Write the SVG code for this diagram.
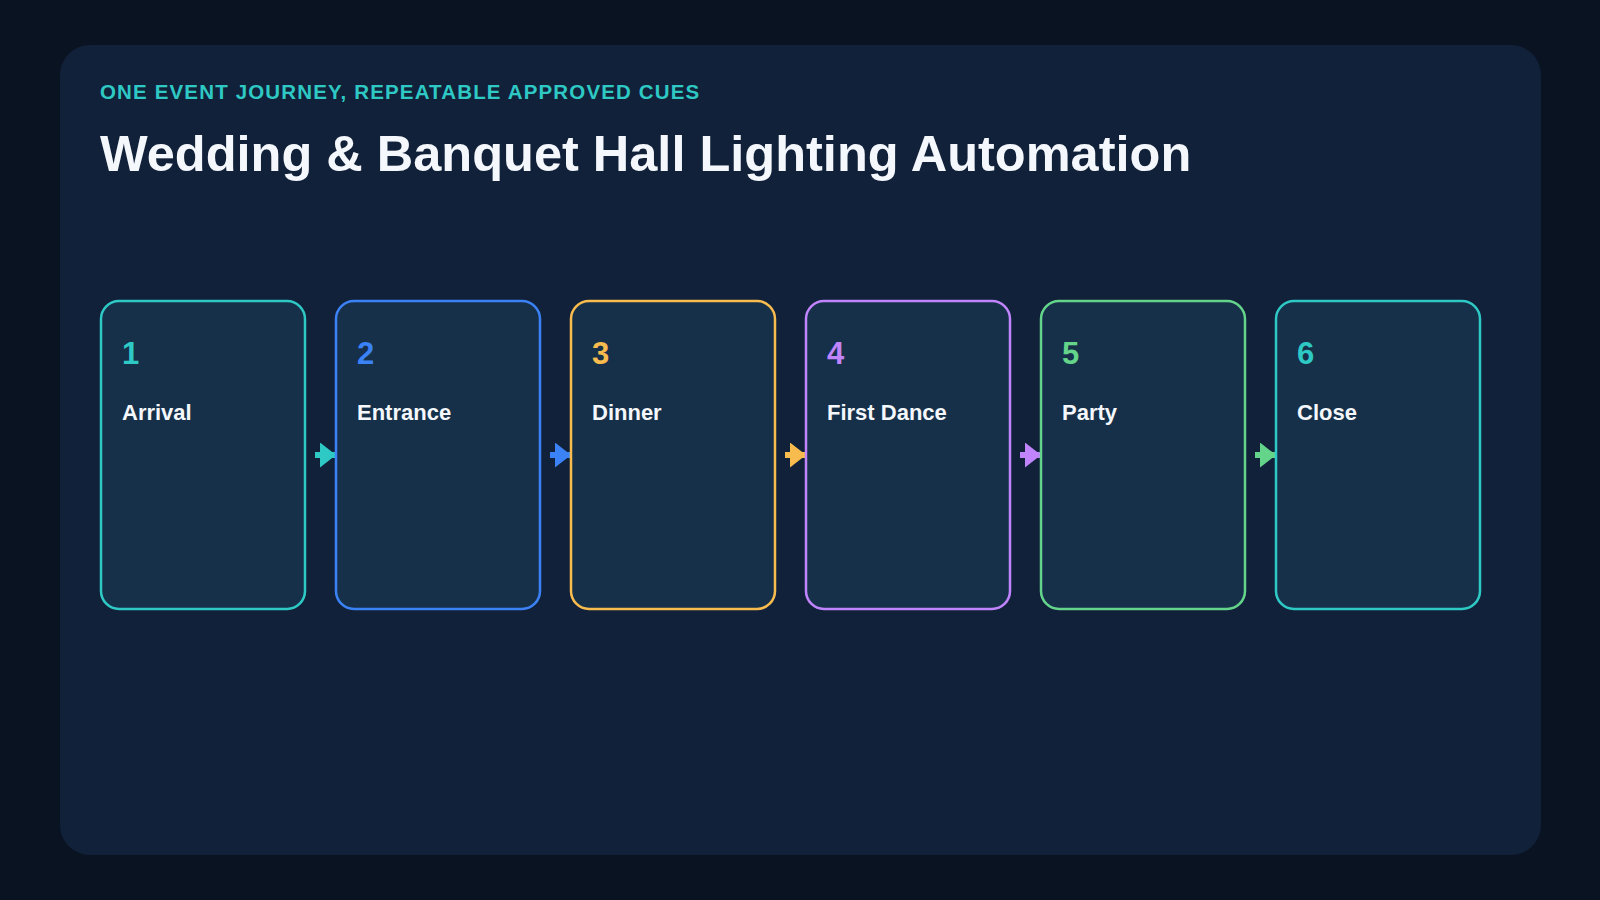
<svg xmlns="http://www.w3.org/2000/svg" width="1600" height="900" viewBox="0 0 1600 900">
<defs>
<style>
.t{font-family:"Liberation Sans",Arial,sans-serif;font-weight:700}
.card{fill:#16304a;stroke-width:2.5}
.num{font-size:31px}
.lbl{font-size:22px;fill:#f4f7fb}
</style>
<marker id="ah-teal" viewBox="0 0 10 10" refX="10" refY="5" markerWidth="16" markerHeight="25" markerUnits="userSpaceOnUse" orient="auto" preserveAspectRatio="none"><path d="M0,0 L10,5 L0,10 Z" fill="#2ec9c4"/></marker>
<marker id="ah-blue" viewBox="0 0 10 10" refX="10" refY="5" markerWidth="16" markerHeight="25" markerUnits="userSpaceOnUse" orient="auto" preserveAspectRatio="none"><path d="M0,0 L10,5 L0,10 Z" fill="#3b82f6"/></marker>
<marker id="ah-amber" viewBox="0 0 10 10" refX="10" refY="5" markerWidth="16" markerHeight="25" markerUnits="userSpaceOnUse" orient="auto" preserveAspectRatio="none"><path d="M0,0 L10,5 L0,10 Z" fill="#f8bb4d"/></marker>
<marker id="ah-purple" viewBox="0 0 10 10" refX="10" refY="5" markerWidth="16" markerHeight="25" markerUnits="userSpaceOnUse" orient="auto" preserveAspectRatio="none"><path d="M0,0 L10,5 L0,10 Z" fill="#c084fc"/></marker>
<marker id="ah-green" viewBox="0 0 10 10" refX="10" refY="5" markerWidth="16" markerHeight="25" markerUnits="userSpaceOnUse" orient="auto" preserveAspectRatio="none"><path d="M0,0 L10,5 L0,10 Z" fill="#63d48a"/></marker>
</defs>
<rect x="0" y="0" width="1600" height="900" fill="#0a1322"/>
<rect x="60" y="45" width="1481" height="810" rx="30" fill="#11213a"/>
<text class="t" x="100" y="99" font-size="20.5" letter-spacing="1.15" fill="#2ec9c4">ONE EVENT JOURNEY, REPEATABLE APPROVED CUES</text>
<text class="t" x="100" y="171" font-size="50.5" fill="#f4f7fb">Wedding &amp; Banquet Hall Lighting Automation</text>
<g id="connectors" stroke-width="6" fill="none">
<line x1="315" y1="455" x2="336" y2="455" stroke="#2ec9c4" marker-end="url(#ah-teal)"/>
<line x1="550" y1="455" x2="571" y2="455" stroke="#3b82f6" marker-end="url(#ah-blue)"/>
<line x1="785" y1="455" x2="806" y2="455" stroke="#f8bb4d" marker-end="url(#ah-amber)"/>
<line x1="1020" y1="455" x2="1041" y2="455" stroke="#c084fc" marker-end="url(#ah-purple)"/>
<line x1="1255" y1="455" x2="1276" y2="455" stroke="#63d48a" marker-end="url(#ah-green)"/>
</g>
<g id="n1"><rect class="card" x="101" y="301" width="204" height="308" rx="18" stroke="#2ec9c4"/><text class="t num" x="122" y="364" fill="#2ec9c4">1</text><text class="t lbl" x="122" y="420">Arrival</text></g>
<g id="n2"><rect class="card" x="336" y="301" width="204" height="308" rx="18" stroke="#3b82f6"/><text class="t num" x="357" y="364" fill="#3b82f6">2</text><text class="t lbl" x="357" y="420">Entrance</text></g>
<g id="n3"><rect class="card" x="571" y="301" width="204" height="308" rx="18" stroke="#f8bb4d"/><text class="t num" x="592" y="364" fill="#f8bb4d">3</text><text class="t lbl" x="592" y="420">Dinner</text></g>
<g id="n4"><rect class="card" x="806" y="301" width="204" height="308" rx="18" stroke="#c084fc"/><text class="t num" x="827" y="364" fill="#c084fc">4</text><text class="t lbl" x="827" y="420">First Dance</text></g>
<g id="n5"><rect class="card" x="1041" y="301" width="204" height="308" rx="18" stroke="#63d48a"/><text class="t num" x="1062" y="364" fill="#63d48a">5</text><text class="t lbl" x="1062" y="420">Party</text></g>
<g id="n6"><rect class="card" x="1276" y="301" width="204" height="308" rx="18" stroke="#2ec9c4"/><text class="t num" x="1297" y="364" fill="#2ec9c4">6</text><text class="t lbl" x="1297" y="420">Close</text></g>
</svg>
